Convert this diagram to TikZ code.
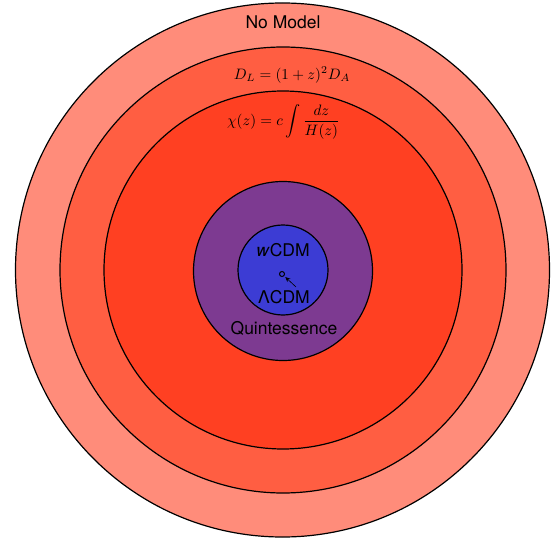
\documentclass[tikz,border=0pt]{standalone}
\usepackage{fontspec}
\usetikzlibrary{arrows.meta}
\newfontfamily\hel{TeX Gyre Heros}
\definecolor{ringA}{RGB}{255,140,122}
\definecolor{ringB}{RGB}{255,94,66}
\definecolor{ringC}{RGB}{255,64,34}
\definecolor{quint}{RGB}{125,58,145}
\definecolor{wcdm}{RGB}{60,60,212}
\begin{document}
\begin{tikzpicture}[x=1pt,y=1pt,
  ring/.style={circle,draw=black,line width=1.2pt,inner sep=0pt},
  lab/.style={font=\hel\fontsize{17.5}{20}\selectfont,inner sep=0pt},
  mlab/.style={inner sep=0pt}]
\useasboundingbox (0,0) rectangle (559,539);
\node[ring,fill=ringA,minimum size=534pt] (outer) at (282.5,269) {};
\node[ring,fill=ringB,minimum size=446pt] (second) at (283,269) {};
\node[ring,fill=ringC,minimum size=358pt] (third) at (283,269) {};
\node[ring,fill=quint,minimum size=179pt] (quin) at (283,268) {};
\node[ring,fill=wcdm,minimum size=90pt] (wc) at (283,269) {};
\node[circle,draw=black,line width=1pt,minimum size=5pt,inner sep=0pt] (lcdm) at (282,265) {};
\coordinate (arrstart) at (296,252);
\draw[-{Stealth[length=5pt,width=4.5pt]},line width=0.6pt,shorten >=1.5pt] (arrstart) -- (lcdm);
\node[lab] (nomodel) at (283,517) {No Model};
\node[mlab] (dl) at (292,464) {\scalebox{1.51}{$D_L = (1+z)^2 D_A$}};
\node[mlab] (chi) at (283.5,417) {\scalebox{1.51}{$\chi(z) = c\displaystyle\int\frac{dz}{H(z)}$}};
\node[lab] (wtxt) at (283,289) {\textit{w}CDM};
\node[lab] (ltxt) at (284,242) {ΛCDM};
\node[lab] (qtxt) at (284,211) {Quintessence};
\end{tikzpicture}
\end{document}
